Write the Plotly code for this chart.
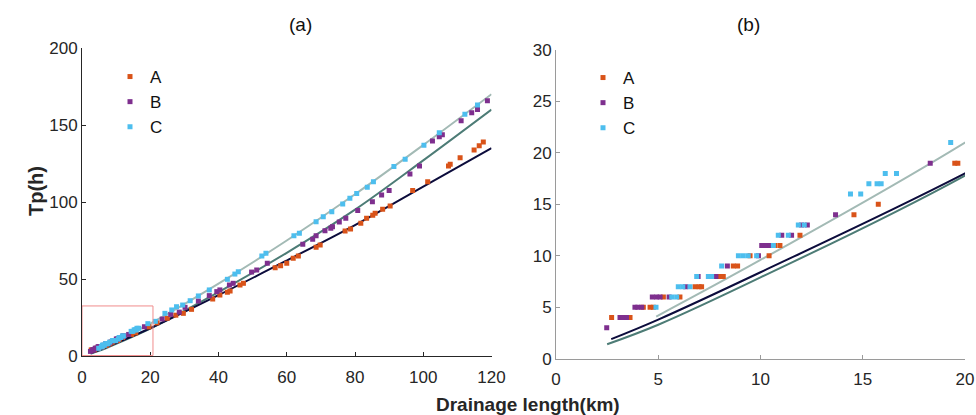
import plotly.graph_objects as go

# ---- data ----
a_x = [2.72, 3.62, 4.27, 4.6, 4.76, 5.25, 6.06, 6.8, 7.0, 7.12, 8.02, 8.18, 8.67, 8.88, 9.49, 10.42,
       10.7, 10.95, 11.93, 14.57, 15.76, 19.5, 19.65,
       22, 25, 27.5, 29.7, 32.1, 38.3, 40.4, 42.6, 43.4, 46.3, 47.3, 56.6, 58.2, 60, 61.9, 63.4,
       68.6, 69.8, 77.1, 78.7, 81.7, 83.4, 85.2, 85.9, 88.1, 90.3, 96.9, 101.3, 107.4, 107.9,
       110.8, 114.9, 116.4, 117.6]
a_y = [4, 4, 5, 5, 5, 6, 6, 7, 7, 7, 8, 8, 9, 9, 10, 10,
       11, 11, 12, 14, 15, 19, 19,
       21.5, 24.5, 26.5, 27.7, 30.3, 37, 39.6, 41.4, 42.2, 46.1, 47.2, 57.3, 58.6, 60.2, 63.4, 64.9,
       70.6, 72.1, 81.2, 82.5, 86.2, 89.4, 91.4, 92.7, 95.3, 97.4, 107.4, 113.2, 123.4, 124.5,
       128.8, 133.8, 136.6, 139]

b_x = [2.48, 3.13, 3.3, 3.45, 3.86, 4.0, 4.19, 4.71, 4.92, 5.09, 5.53, 6.34, 6.95, 7.82, 8.38,
       9.9, 10.06, 10.25, 10.46, 11.04, 11.52, 12.01, 12.29, 13.67, 18.3,
       23.5, 26, 28.5, 30.2, 34.1, 37.3, 39.5, 40.4, 43.2, 44.3, 49.7, 51.2, 54.3, 64.7, 67.6,
       68.6, 71.2, 72.9, 73.4, 75.4, 77.3, 80.8, 85.1, 87.8, 90, 96.1, 98.9, 102.7, 104.7, 105.6,
       111.1, 114.2, 115.9, 118.8]
b_y = [3, 4, 4, 4, 5, 5, 5, 6, 6, 6, 6, 7, 8, 8, 9,
       10, 11, 11, 11, 12, 12, 13, 13, 14, 19,
       24, 27, 28.5, 31.6, 35.7, 39.2, 41.8, 42.9, 46.1, 47.2, 54.5, 55.8, 60.2, 72.5, 75.8,
       78.1, 81.4, 82.9, 84, 87, 89.4, 94.4, 100.2, 104.5, 107.4, 118.2, 123.4, 139.6, 142.4, 143.7,
       152.8, 158, 160, 165.8]

c_x = [4.89, 5.66, 5.9, 5.98, 6.2, 6.55, 6.88, 7.45, 7.61, 8.1, 8.92, 9.16, 9.4, 9.81, 10.63,
       10.87, 11.36, 11.85, 12.14, 14.4, 14.9, 15.3, 15.7, 15.9, 16.1, 16.65, 19.3,
       21.5, 24.3, 26.3, 27.7, 29.5, 31.7, 34.1, 37.3, 42.6, 44.8, 45.8, 52.7, 53.9, 62.1, 63.7,
       68.6, 70.7, 73.2, 76.4, 78.5, 80.5, 83.6, 85.4, 91.4, 94.7, 100.2, 104.7, 112.2, 115.9]
c_y = [5, 6, 6, 7, 7, 7, 8, 8, 8, 9, 10, 10, 10, 10, 11,
       12, 12, 13, 13, 16, 16, 17, 17, 17, 18, 18, 21,
       22.5, 27.7, 29.9, 32, 33.1, 35.9, 39, 42.9, 49.8, 53.2, 54.7, 64.9, 66.7, 78.1, 79.7,
       87.2, 90.5, 93.7, 98.7, 102.4, 105.6, 109.5, 113.2, 123, 127.7, 136.8, 145, 157, 163]

# fitted curves
navy_x = [2.7, 5, 10, 20, 40, 60, 80, 100, 120]
navy_y = [1.9, 3.8, 8.4, 18.0, 39.5, 62, 85, 110, 135]
teal_x = [2.5, 5, 10, 20, 40, 60, 80, 100, 120]
teal_y = [1.4, 3.3, 7.9, 17.8, 41.5, 67, 95, 127, 160]
gray_x = [4.9, 10, 20, 40, 60, 80, 100, 120]
gray_y = [4.1, 9.6, 21, 47, 75, 105, 137, 170]

series_names = ["A", "B", "C"]
series_colors = ["#D95319", "#7E2F8E", "#4DBEEE"]
line_colors = {"gray": "#A3BAB5", "teal": "#4D7C76", "navy": "#0C0C3C"}

FONT = "Arial, Liberation Sans, sans-serif"
fig = go.Figure()

pts = [(a_x, a_y), (b_x, b_y), (c_x, c_y)]
for panel, (xa, ya, leg) in enumerate([("x", "y", "legend"), ("x2", "y2", "legend2")]):
    for (xs, ys), col in [((gray_x, gray_y), line_colors["gray"]),
                          ((teal_x, teal_y), line_colors["teal"]),
                          ((navy_x, navy_y), line_colors["navy"])]:
        fig.add_trace(go.Scatter(x=xs, y=ys, mode="lines", line=dict(color=col, width=2, shape="spline"),
                                 xaxis=xa, yaxis=ya, showlegend=False, hoverinfo="skip"))
    for (xs, ys), name, col in zip(pts, series_names, series_colors):
        fig.add_trace(go.Scatter(x=xs, y=ys, mode="markers", name=name,
                                 marker=dict(symbol="square", size=5, color=col, line=dict(width=0)),
                                 xaxis=xa, yaxis=ya, legend=leg, showlegend=True))

tickfont = dict(family=FONT, size=17, color="#262626")
common = dict(showgrid=False, zeroline=False, ticks="inside", ticklen=4, showline=True,
              tickfont=tickfont, automargin=False, mirror=False)

fig.update_layout(
    width=976, height=415,
    margin=dict(l=0, r=0, t=0, b=0),
    paper_bgcolor="white", plot_bgcolor="white",
    font=dict(family=FONT, color="#262626"),
    xaxis=dict(domain=[82/976, 491.5/976], range=[0, 120], tickvals=[0, 20, 40, 60, 80, 100, 120],
               linecolor="#262626", tickcolor="#262626", anchor="y", ticklabelstandoff=6, **common),
    yaxis=dict(domain=[(415-356)/415, (415-48)/415], range=[0, 200], tickvals=[0, 50, 100, 150, 200],
               linecolor="#262626", tickcolor="#262626", anchor="x", **common),
    xaxis2=dict(domain=[556/976, 965/976], range=[0, 20], tickvals=[0, 5, 10, 15, 20],
                linecolor="#9A9A9A", tickcolor="#9A9A9A", anchor="y2", ticklabelstandoff=5, **common),
    yaxis2=dict(domain=[(415-358.7)/415, (415-50)/415], range=[0, 30], tickvals=[0, 5, 10, 15, 20, 25, 30],
                linecolor="#9A9A9A", tickcolor="#9A9A9A", anchor="x2", **common),
    legend=dict(x=110/976, y=1-59/415, xanchor="left", yanchor="top", bgcolor="rgba(0,0,0,0)",
                font=dict(family=FONT, size=17, color="#111111"), tracegroupgap=0),
    legend2=dict(x=583/976, y=1-60/415, xanchor="left", yanchor="top", bgcolor="rgba(0,0,0,0)",
                 font=dict(family=FONT, size=17, color="#111111"), tracegroupgap=0),
    showlegend=True,
)

fig.add_shape(type="rect", xref="x", yref="y", x0=0, x1=20.8, y0=0.3, y1=32.5,
              line=dict(color="#F08C8C", width=1))

ann = [
    dict(text="(a)", x=287/976, y=1-25/415, xref="paper", yref="paper", showarrow=False,
         yanchor="middle", font=dict(size=19, family=FONT, color="#111111")),
    dict(text="(b)", x=762/976, y=1-25/415, xref="paper", yref="paper", showarrow=False,
         yanchor="middle", font=dict(size=19, family=FONT, color="#111111")),
    dict(text="<b>Drainage length(km)</b>", x=528/976, y=1-404/415, xref="paper", yref="paper",
         yanchor="middle", showarrow=False, font=dict(size=19, family=FONT, color="#262626")),
    dict(text="<b>Tp(h)</b>", x=23/976, y=1-191/415, xref="paper", yref="paper", textangle=-90,
         showarrow=False, font=dict(size=20, family=FONT, color="#262626")),
]
fig.update_layout(annotations=ann)

fig.write_html("out.html")
